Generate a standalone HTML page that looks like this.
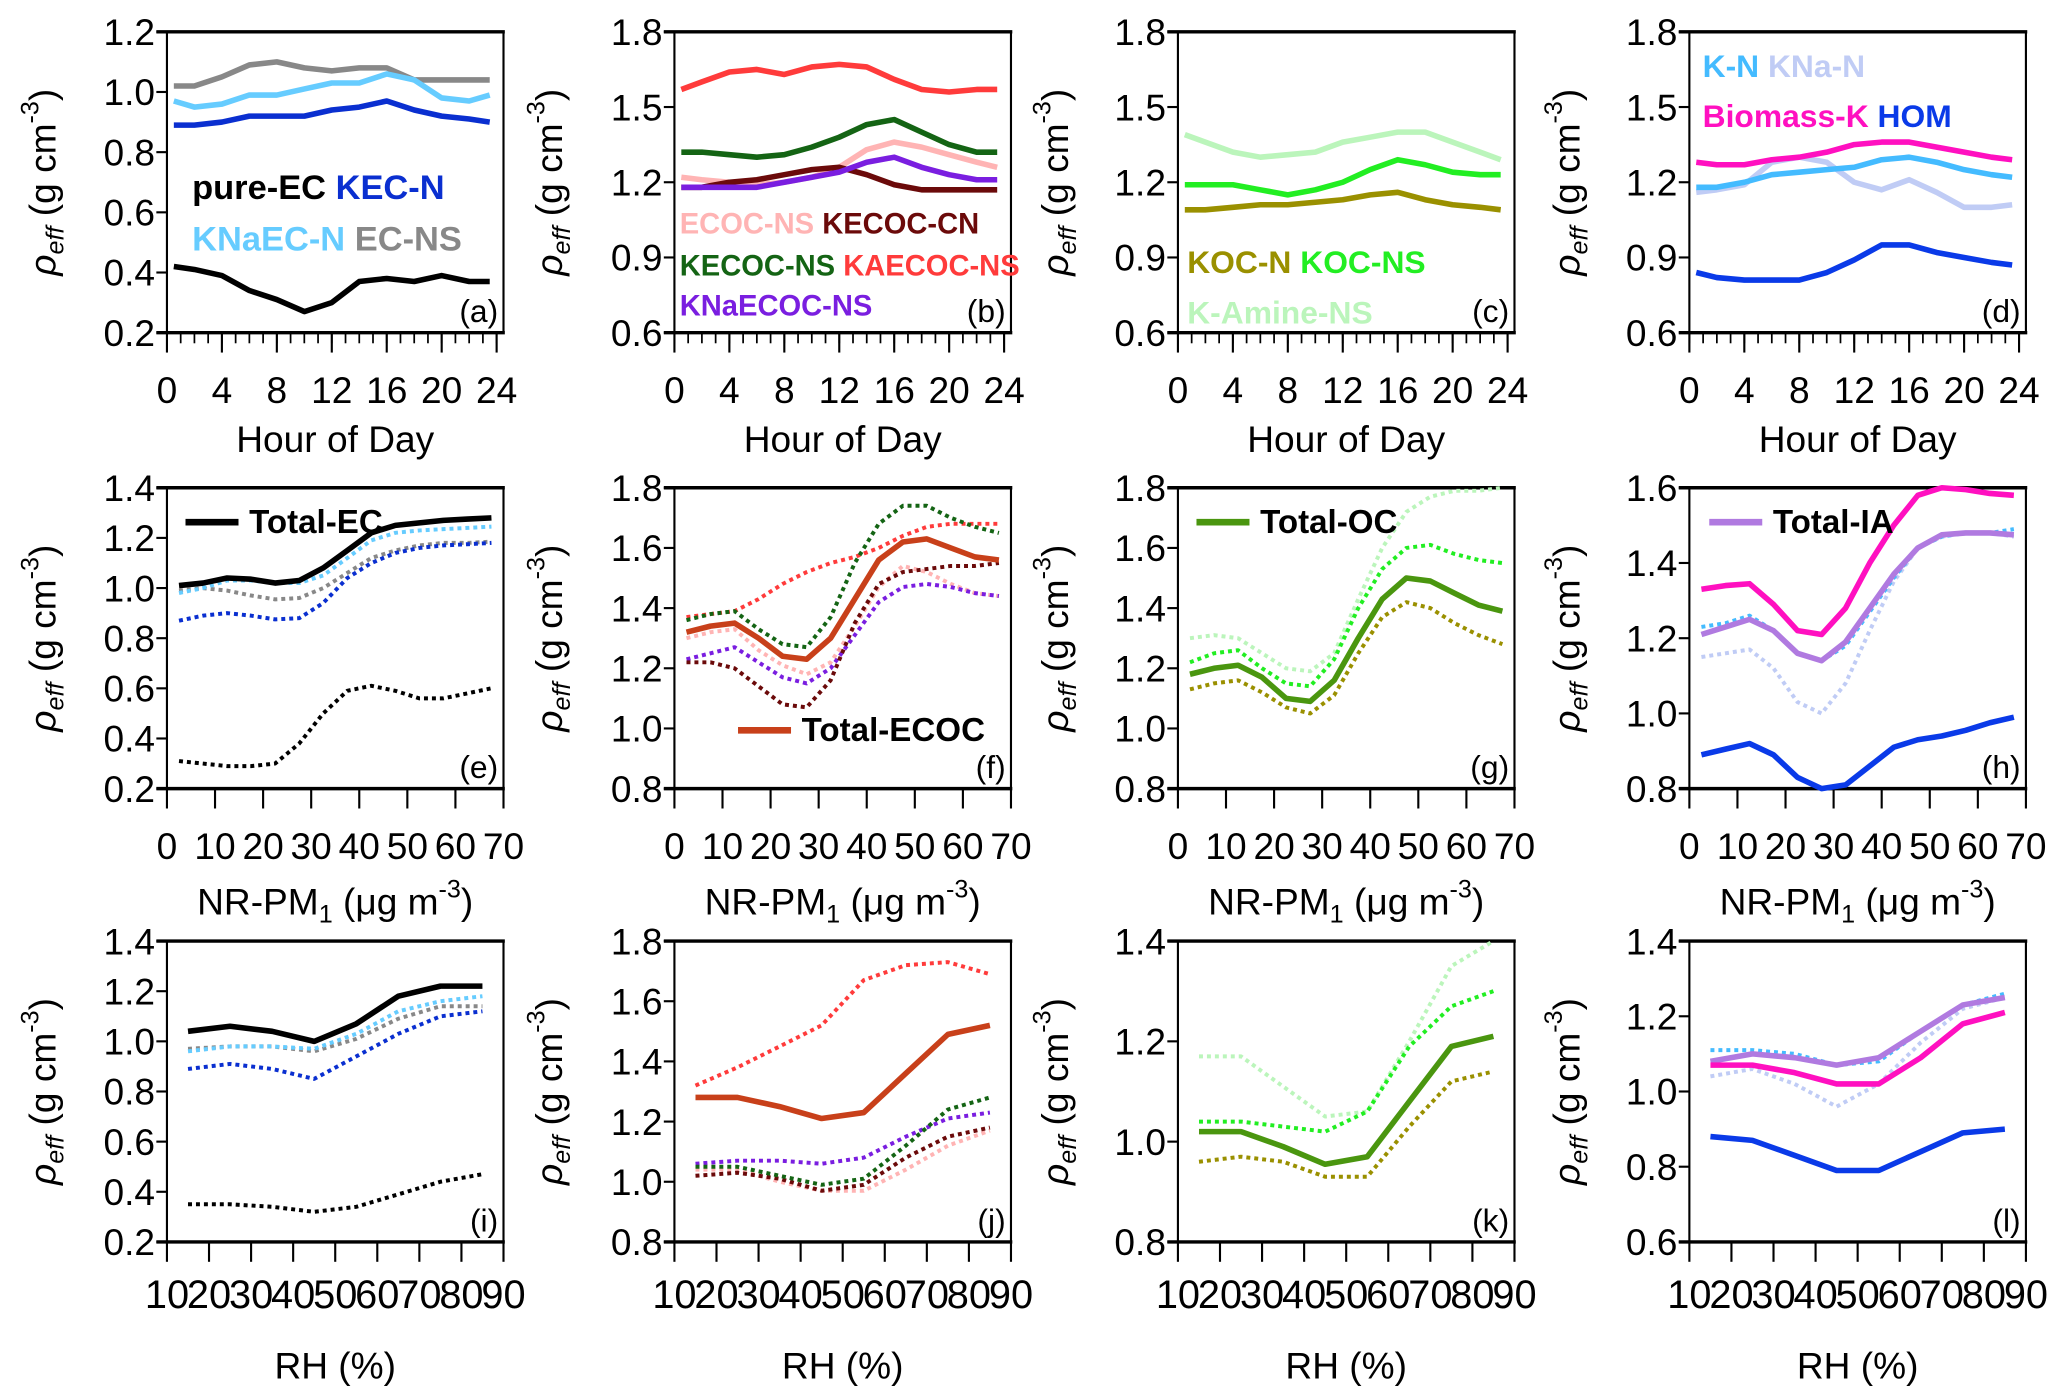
<!DOCTYPE html>
<html><head><meta charset="utf-8"><style>
html,body{margin:0;padding:0;background:#fff;}
svg{display:block;font-family:"Liberation Sans",Arial,sans-serif;}
</style></head><body>
<svg id="fig" width="2067" height="1397" viewBox="0 0 1560 1054" preserveAspectRatio="none" xmlns="http://www.w3.org/2000/svg"></svg>
<script>
// ---- data ----
const hours = [0.5,2,4,6,8,10,12,14,16,18,20,22,23.5];
const pm = [2.5,7.5,12.5,17.5,22.5,27.5,32.5,37.5,42.5,47.5,52.5,57.5,62.5,67.5];
const rh = [15,25,35,45,55,65,75,85];

const aPureEC = [0.42,0.41,0.39,0.34,0.31,0.27,0.30,0.37,0.38,0.37,0.39,0.37,0.37];
const aKECN = [0.89,0.89,0.90,0.92,0.92,0.92,0.94,0.95,0.97,0.94,0.92,0.91,0.90];
const aKNaECN = [0.97,0.95,0.96,0.99,0.99,1.01,1.03,1.03,1.06,1.04,0.98,0.97,0.99];
const aECNS = [1.02,1.02,1.05,1.09,1.10,1.08,1.07,1.08,1.08,1.04,1.04,1.04,1.04];

const bKAECOC = [1.57,1.60,1.64,1.65,1.63,1.66,1.67,1.66,1.61,1.57,1.56,1.57,1.57];
const bKECOCNS = [1.32,1.32,1.31,1.30,1.31,1.34,1.38,1.43,1.45,1.40,1.35,1.32,1.32];
const bECOCNS = [1.22,1.21,1.20,1.19,1.20,1.22,1.26,1.33,1.36,1.34,1.31,1.28,1.26];
const bKECOCCN = [1.18,1.18,1.20,1.21,1.23,1.25,1.26,1.23,1.19,1.17,1.17,1.17,1.17];
const bKNaECOC = [1.18,1.18,1.18,1.18,1.20,1.22,1.24,1.28,1.30,1.26,1.23,1.21,1.21];

const cKAmine = [1.39,1.36,1.32,1.30,1.31,1.32,1.36,1.38,1.40,1.40,1.36,1.32,1.29];
const cKOCNS = [1.19,1.19,1.19,1.17,1.15,1.17,1.20,1.25,1.29,1.27,1.24,1.23,1.23];
const cKOCN = [1.09,1.09,1.10,1.11,1.11,1.12,1.13,1.15,1.16,1.13,1.11,1.10,1.09];

const dBiomass = [1.28,1.27,1.27,1.29,1.30,1.32,1.35,1.36,1.36,1.34,1.32,1.30,1.29];
const dKN = [1.18,1.18,1.20,1.23,1.24,1.25,1.26,1.29,1.30,1.28,1.25,1.23,1.22];
const dKNaN = [1.16,1.17,1.19,1.28,1.30,1.28,1.20,1.17,1.21,1.16,1.10,1.10,1.11];
const dHOM = [0.84,0.82,0.81,0.81,0.81,0.84,0.89,0.95,0.95,0.92,0.90,0.88,0.87];

const eTotal = [1.01,1.02,1.04,1.035,1.02,1.03,1.08,1.15,1.22,1.25,1.26,1.27,1.275,1.28];
const eKNaEC = [0.98,1.00,1.03,1.03,1.02,1.02,1.05,1.12,1.19,1.22,1.23,1.235,1.24,1.245];
const eECNS = [0.99,1.00,0.99,0.97,0.955,0.96,1.00,1.06,1.12,1.15,1.17,1.18,1.18,1.185];
const eKECN = [0.87,0.89,0.90,0.89,0.875,0.88,0.94,1.04,1.10,1.14,1.16,1.17,1.175,1.18];
const ePure = [0.31,0.30,0.29,0.29,0.30,0.38,0.50,0.59,0.61,0.59,0.56,0.56,0.58,0.60];

const fTotal = [1.32,1.34,1.35,1.30,1.24,1.23,1.30,1.43,1.56,1.62,1.63,1.60,1.57,1.56];
const fKAECOC = [1.37,1.38,1.39,1.43,1.48,1.52,1.55,1.57,1.60,1.64,1.67,1.68,1.68,1.68];
const fKECOCNS = [1.36,1.38,1.39,1.33,1.28,1.27,1.37,1.55,1.68,1.74,1.74,1.70,1.67,1.65];
const fECOCNS = [1.30,1.32,1.33,1.26,1.21,1.18,1.22,1.34,1.47,1.54,1.52,1.48,1.45,1.44];
const fKNaECOC = [1.23,1.25,1.27,1.22,1.17,1.15,1.20,1.31,1.42,1.47,1.48,1.47,1.45,1.44];
const fKECOCCN = [1.22,1.22,1.20,1.14,1.08,1.07,1.16,1.35,1.48,1.52,1.53,1.54,1.54,1.55];

const gTotal = [1.18,1.20,1.21,1.17,1.10,1.09,1.16,1.30,1.43,1.50,1.49,1.45,1.41,1.39];
const gKOCNS = [1.22,1.25,1.26,1.20,1.15,1.14,1.23,1.40,1.53,1.60,1.61,1.58,1.56,1.55];
const gKAmine = [1.30,1.31,1.30,1.25,1.20,1.19,1.25,1.43,1.60,1.72,1.77,1.79,1.79,1.80];
const gKOCN = [1.13,1.15,1.16,1.12,1.07,1.05,1.11,1.25,1.37,1.42,1.40,1.35,1.31,1.28];

const hBiomass = [1.33,1.34,1.345,1.29,1.22,1.21,1.28,1.40,1.50,1.58,1.60,1.595,1.585,1.58];
const hTotal = [1.21,1.23,1.25,1.22,1.16,1.14,1.19,1.28,1.37,1.44,1.475,1.48,1.48,1.475];
const hKN = [1.23,1.24,1.26,1.22,1.16,1.14,1.18,1.27,1.36,1.44,1.47,1.48,1.48,1.49];
const hKNaN = [1.15,1.16,1.17,1.12,1.03,1.00,1.08,1.22,1.35,1.44,1.47,1.48,1.48,1.47];
const hHOM = [0.89,0.905,0.92,0.89,0.83,0.80,0.81,0.86,0.91,0.93,0.94,0.955,0.975,0.99];

const iTotal = [1.04,1.06,1.04,1.00,1.07,1.18,1.22,1.22];
const iKNaEC = [0.96,0.98,0.98,0.97,1.03,1.12,1.16,1.18];
const iECNS = [0.97,0.98,0.98,0.96,1.01,1.09,1.14,1.14];
const iKECN = [0.89,0.91,0.89,0.85,0.94,1.03,1.10,1.12];
const iPure = [0.35,0.35,0.34,0.32,0.34,0.39,0.44,0.47];

const jTotal = [1.28,1.28,1.25,1.21,1.23,1.36,1.49,1.52];
const jKAECOC = [1.32,1.38,1.45,1.52,1.67,1.72,1.73,1.69];
const jKECOCNS = [1.05,1.05,1.02,0.99,1.01,1.12,1.24,1.28];
const jKNaECOC = [1.06,1.07,1.07,1.06,1.08,1.15,1.21,1.23];
const jKECOCCN = [1.02,1.03,1.01,0.97,0.99,1.08,1.15,1.18];
const jECOCNS = [1.04,1.04,1.00,0.97,0.97,1.04,1.12,1.17];

const kTotal = [1.02,1.02,0.99,0.955,0.97,1.08,1.19,1.21];
const kKOCNS = [1.04,1.04,1.03,1.02,1.06,1.19,1.27,1.30];
const kKAmine = [1.17,1.17,1.11,1.05,1.06,1.20,1.35,1.40];
const kKOCN = [0.96,0.97,0.96,0.93,0.93,1.03,1.12,1.14];

const lTotal = [1.08,1.10,1.09,1.07,1.09,1.16,1.23,1.25];
const lKN = [1.11,1.11,1.10,1.07,1.08,1.16,1.23,1.26];
const lKNaN = [1.04,1.06,1.02,0.96,1.02,1.13,1.22,1.25];
const lBiomass = [1.07,1.07,1.05,1.02,1.02,1.09,1.18,1.21];
const lHOM = [0.88,0.87,0.83,0.79,0.79,0.84,0.89,0.90];

const hourTicks = ['0','4','8','12','16','20','24'];
const pmTicks = ['0','10','20','30','40','50','60','70'];
const rhTicks = ['10','20','30','40','50','60','70','80','90'];

// ---- colors ----
const C = {pure:'#000',kecn:'#0a2fd0',knaec:'#66ccff',ecns:'#888',ecocns:'#ffb4b4',kecoccn:'#6b0a0a',kecocns:'#146414',kaecoc:'#ff3b3b',knaecoc:'#7a1ee0',kocn:'#9a9000',kocns:'#22ee22',kamine:'#bbf5bb',kn:'#44bbff',knan:'#c0ccf5',bio:'#ff10c0',hom:'#0a3ae8',tecoc:'#c8401a',toc:'#4a960f',tia:'#b07ae0'};

const NS='http://www.w3.org/2000/svg';
const svg=document.getElementById('fig');
function mk(tag,attrs,parent){const e=document.createElementNS(NS,tag);for(const k in attrs)e.setAttribute(k,attrs[k]);(parent||svg).appendChild(e);return e;}

const cols=[[126,380],[509,763],[889,1143],[1275,1529]];
const rows=[[24,251],[368,595],[710,937]];
const ytitleX=[42,424,806,1192];

function panel(ci,ri,letter,ymin,ymax,ystep,xmin,xmax,xstep,xlabels,minor,series,name){
  const [x0,x1]=cols[ci],[y0,y1]=rows[ri];
  const g=mk('g',{});
  
  
  const sx=v=>x0+(v-xmin)/(xmax-xmin)*(x1-x0);
  const sy=v=>y1-(v-ymin)/(ymax-ymin)*(y1-y0);
  mk('line',{x1:x0,y1:y0,x2:x0,y2:y1,stroke:'#000','stroke-width':1.6},g);
  mk('line',{x1:x1,y1:y0,x2:x1,y2:y1,stroke:'#000','stroke-width':1.6},g);
  mk('line',{x1:x0-8,y1:y0,x2:x1+1,y2:y0,stroke:'#000','stroke-width':2.6},g);
  mk('line',{x1:x0-8,y1:y1,x2:x1+1,y2:y1,stroke:'#000','stroke-width':2.6},g);
  const nY=Math.round((ymax-ymin)/ystep);
  for(let i=0;i<=nY;i++){const v=ymin+i*ystep;const y=sy(v);
    mk('line',{x1:x0-8,y1:y,x2:x0,y2:y,stroke:'#000','stroke-width':1.6},g);
    const t=mk('text',{x:x0-9,y:y+10,'text-anchor':'end','font-size':28},g);t.textContent=v.toFixed(1);
    }
  const nX=Math.round((xmax-xmin)/xstep);
  for(let i=0;i<=nX;i++){const v=xmin+i*xstep;const x=sx(v);
    mk('line',{x1:x,y1:y1,x2:x,y2:y1+15,stroke:'#000','stroke-width':1.6},g);}
  if(minor){for(let v=xmin;v<=24;v+=minor){const x=sx(v);mk('line',{x1:x,y1:y1,x2:x,y2:y1+8,stroke:'#000','stroke-width':1.3},g);}}
  xlabels.forEach((lab,i)=>{
    const v=minor? i*4 : xmin+i*xstep;
    const fs=minor?28:(ri===2?30:28);
    const t=mk('text',{x:sx(v),y:y1+(ri===2?50:53),'text-anchor':'middle','font-size':fs},g);
    t.textContent=lab;
  });
  const pl=mk('text',{x:x1-4,y:y1-8,'text-anchor':'end','font-size':24},g);pl.textContent='('+letter+')';
  
  const yc=(y0+y1)/2;
  const yt=mk('text',{transform:`translate(${ytitleX[ci]},${yc}) rotate(-90)`,'text-anchor':'middle','font-size':28},g);
  
  yt.innerHTML='<tspan font-style="italic">ρ</tspan><tspan font-style="italic" font-size="19" dy="6">eff</tspan><tspan dy="-6"> (g cm</tspan><tspan font-size="19" dy="-13">-3</tspan><tspan dy="13">)</tspan>';
  series.forEach(s=>{
    const pts=s.y.map((v,i)=>sx(s.x[i]).toFixed(1)+','+sy(v).toFixed(1)).join(' ');
    const p=mk('polyline',{points:pts,fill:'none',stroke:s.c,'stroke-width':s.dot?3:4.2,'stroke-dasharray':s.dot?'3 3':'none','stroke-linejoin':'round'},g);
    
    
  });
  return g;
}
const S=(x,y,c,n,dot)=>({x,y,c,n,dot});

panel(0,0,'a',0.2,1.2,0.2,0,24.5,4,hourTicks,1,[S(hours,aECNS,C.ecns,'ec-ns'),S(hours,aKNaECN,C.knaec,'knaec-n'),S(hours,aKECN,C.kecn,'kec-n'),S(hours,aPureEC,C.pure,'pure-ec')],'a');
panel(1,0,'b',0.6,1.8,0.3,0,24.5,4,hourTicks,1,[S(hours,bKAECOC,C.kaecoc,'kaecoc-ns'),S(hours,bKECOCNS,C.kecocns,'kecoc-ns'),S(hours,bECOCNS,C.ecocns,'ecoc-ns'),S(hours,bKECOCCN,C.kecoccn,'kecoc-cn'),S(hours,bKNaECOC,C.knaecoc,'knaecoc-ns')],'b');
panel(2,0,'c',0.6,1.8,0.3,0,24.5,4,hourTicks,1,[S(hours,cKAmine,C.kamine,'k-amine-ns'),S(hours,cKOCNS,C.kocns,'koc-ns'),S(hours,cKOCN,C.kocn,'koc-n')],'c');
panel(3,0,'d',0.6,1.8,0.3,0,24.5,4,hourTicks,1,[S(hours,dKNaN,C.knan,'kna-n'),S(hours,dKN,C.kn,'k-n'),S(hours,dBiomass,C.bio,'biomass-k'),S(hours,dHOM,C.hom,'hom')],'d');

panel(0,1,'e',0.2,1.4,0.2,0,70,10,pmTicks,0,[S(pm,eECNS,C.ecns,'ec-ns',1),S(pm,eKECN,C.kecn,'kec-n',1),S(pm,eKNaEC,C.knaec,'knaec-n',1),S(pm,ePure,C.pure,'pure-ec',1),S(pm,eTotal,'#000','total-ec')],'e');
panel(1,1,'f',0.8,1.8,0.2,0,70,10,pmTicks,0,[S(pm,fKAECOC,C.kaecoc,'kaecoc-ns',1),S(pm,fKECOCNS,C.kecocns,'kecoc-ns',1),S(pm,fECOCNS,C.ecocns,'ecoc-ns',1),S(pm,fKNaECOC,C.knaecoc,'knaecoc-ns',1),S(pm,fKECOCCN,C.kecoccn,'kecoc-cn',1),S(pm,fTotal,C.tecoc,'total-ecoc')],'f');
panel(2,1,'g',0.8,1.8,0.2,0,70,10,pmTicks,0,[S(pm,gKAmine,C.kamine,'k-amine-ns',1),S(pm,gKOCNS,C.kocns,'koc-ns',1),S(pm,gKOCN,C.kocn,'koc-n',1),S(pm,gTotal,C.toc,'total-oc')],'g');
panel(3,1,'h',0.8,1.6,0.2,0,70,10,pmTicks,0,[S(pm,hKNaN,C.knan,'kna-n',1),S(pm,hKN,C.kn,'k-n',1),S(pm,hBiomass,C.bio,'biomass-k'),S(pm,hTotal,C.tia,'total-ia'),S(pm,hHOM,C.hom,'hom')],'h');

panel(0,2,'i',0.2,1.4,0.2,10,90,10,rhTicks,0,[S(rh,iECNS,C.ecns,'ec-ns',1),S(rh,iKNaEC,C.knaec,'knaec-n',1),S(rh,iKECN,C.kecn,'kec-n',1),S(rh,iPure,C.pure,'pure-ec',1),S(rh,iTotal,'#000','total-ec')],'i');
panel(1,2,'j',0.8,1.8,0.2,10,90,10,rhTicks,0,[S(rh,jKAECOC,C.kaecoc,'kaecoc-ns',1),S(rh,jECOCNS,C.ecocns,'ecoc-ns',1),S(rh,jKECOCCN,C.kecoccn,'kecoc-cn',1),S(rh,jKNaECOC,C.knaecoc,'knaecoc-ns',1),S(rh,jKECOCNS,C.kecocns,'kecoc-ns',1),S(rh,jTotal,C.tecoc,'total-ecoc')],'j');
panel(2,2,'k',0.8,1.4,0.2,10,90,10,rhTicks,0,[S(rh,kKAmine,C.kamine,'k-amine-ns',1),S(rh,kKOCNS,C.kocns,'koc-ns',1),S(rh,kKOCN,C.kocn,'koc-n',1),S(rh,kTotal,C.toc,'total-oc')],'k');
panel(3,2,'l',0.6,1.4,0.2,10,90,10,rhTicks,0,[S(rh,lKNaN,C.knan,'kna-n',1),S(rh,lKN,C.kn,'k-n',1),S(rh,lTotal,C.tia,'total-ia'),S(rh,lBiomass,C.bio,'biomass-k'),S(rh,lHOM,C.hom,'hom')],'l');

const xt=[['Hour of Day',341],['NR-PM<tspan font-size="19" dy="6">1</tspan><tspan dy="-6"> (μg m</tspan><tspan font-size="19" dy="-13">-3</tspan><tspan dy="13">)</tspan>',690],['RH (%)',1040]];
xt.forEach((t,ri)=>cols.forEach(c=>{
  const e=mk('text',{x:(c[0]+c[1])/2,y:t[1],'text-anchor':'middle','font-size':28});
  e.innerHTML=t[0];
  
  
}));

function leg(x,y,parts,size){
  const e=mk('text',{x:x,y:y,'font-size':size||24,'font-weight':'bold'});
  
  
  e.innerHTML=parts.map(p=>`<tspan fill="${p[1]}">${p[0]}</tspan>`).join(' ');
}
leg(145,150,[['pure-EC','#000'],['KEC-N',C.kecn]],26);
leg(145,189,[['KNaEC-N',C.knaec],['EC-NS',C.ecns]],26);
leg(513,176,[['ECOC-NS',C.ecocns],['KECOC-CN',C.kecoccn]],22);
leg(513,208,[['KECOC-NS',C.kecocns],['KAECOC-NS',C.kaecoc]],22);
leg(513,238,[['KNaECOC-NS',C.knaecoc]],22);
leg(896,206,[['KOC-N',C.kocn],['KOC-NS',C.kocns]]);
leg(896,244,[['K-Amine-NS',C.kamine]]);
leg(1285,58,[['K-N',C.kn],['KNa-N',C.knan]]);
leg(1285,96,[['Biomass-K',C.bio],['HOM',C.hom]]);
function lleg(x,y,label,col){
  const g=mk('g',{});
  
  
  mk('line',{x1:x,y1:y-8,x2:x+40,y2:y-8,stroke:col,'stroke-width':5},g);
  const t=mk('text',{x:x+48,y:y,'font-size':25,'font-weight':'bold'},g);t.textContent=label;
}
lleg(140,402,'Total-EC','#000');
lleg(557,559,'Total-ECOC',C.tecoc);
lleg(903,402,'Total-OC',C.toc);
lleg(1290,402,'Total-IA',C.tia);
</script>
</body></html>
